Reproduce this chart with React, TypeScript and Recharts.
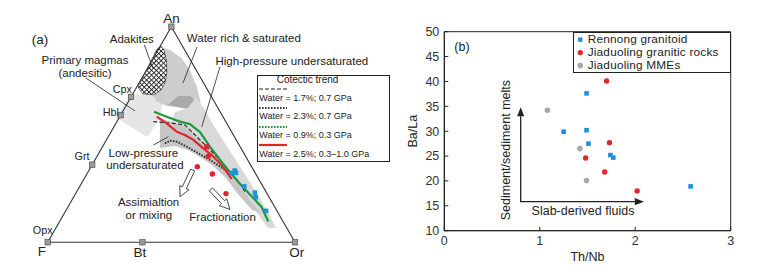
import React from 'react';
import { ScatterChart, Scatter, XAxis, YAxis, Legend, ReferenceArea } from 'recharts';

const FONT = '"Liberation Sans", Arial, Helvetica, sans-serif';
const INK = '#222';
const BLUE = '#1a93d8';
const RED = '#e2252b';
const GREEN = '#1e9a3d';
const GREY = '#a8a8a8';

// ---------- (a) An–F–Or ternary, triangle side = 100 units ----------
const triangleCorners = [[0, 0], [100, 0], [50, 87.2]];
const mineralTicks = [[50, 87.2], [33.7, 58.8], [29.5, 51.4], [18.0, 31.4], [0, 0], [38.3, 0], [100, 0]];

const primaryMagmaField = [[33.7, 59.6], [44.2, 60.4], [46.6, 57.5], [45.4, 50.3], [42.2, 45.4], [40.2, 42.6], [27.2, 50.7]];
const waterRichField = [
  [45.1, 79.1], [49.5, 77.8], [54.2, 74.4], [57.5, 69.7], [60.3, 62.9], [61.6, 57.5], [62.0, 54.8],
  [56.2, 54.2], [48.1, 55.1], [44.1, 56.9], [42.6, 59.2], [45.4, 62.4], [47.0, 66.4], [47.4, 72.5], [46.2, 77.8],
];
const waterRichCore = [[48.6, 55.5], [52.7, 59.2], [57.5, 59.2], [61.2, 56.3], [61.6, 54.3], [55.5, 54.1]];
const highPressureBand = [
  [60.0, 58.8], [63.6, 53.5], [67.7, 46.2], [72.9, 38.1], [78.6, 29.2], [84.2, 20.3], [89.1, 12.3], [92.3, 5.8],
  [89.1, 5.8], [83.8, 13.1], [79.0, 19.1], [73.7, 26.0], [67.7, 33.3], [61.6, 39.3], [55.5, 44.2], [49.5, 47.8],
  [51.5, 52.7], [56.7, 54.3],
];
const lowPressureField = [
  [45.4, 50.3], [50.3, 48.6], [55.5, 46.6], [59.6, 43.4], [64.8, 38.5], [70.5, 32.4], [75.8, 25.2], [81.8, 17.1],
  [86.7, 11.4], [82.6, 13.1], [76.9, 19.5], [71.7, 26.4], [66.4, 31.3], [61.6, 34.5], [56.7, 37.3], [51.5, 38.9],
  [45.4, 38.1],
];
const adakiteField = [
  [45.8, 79.4], [47.0, 77.8], [48.0, 73.8], [48.2, 69.0], [47.6, 64.9], [45.8, 61.6], [43.0, 59.6],
  [38.5, 60.0], [36.5, 62.8], [41.4, 72.5], [44.2, 78.2],
];

// cotectic trends
const trendWater17 = [[42.7, 48.8], [50.8, 48.1], [55.5, 47.4], [58.9, 44.1], [64.3, 38.7], [69.7, 33.3], [73.7, 28.5], [77.1, 24.5], [79.8, 20.5]];
const trendWater23 = [[47.4, 40.0], [49.5, 41.1], [52.2, 40.7], [56.2, 38.7], [60.9, 36.0], [65.6, 33.3], [69.7, 30.6], [73.0, 28.5]];
const trendWater09 = [[43.0, 52.8], [48.1, 50.8], [53.5, 48.8], [57.5, 47.8], [61.6, 44.6], [65.6, 38.7], [69.7, 33.3], [73.0, 29.2], [77.8, 23.6], [83.1, 17.9], [86.5, 14.3], [89.2, 8.4]];
const trendWater25 = [[44.1, 50.8], [48.1, 48.1], [52.2, 44.7], [55.5, 43.4], [58.9, 41.4], [62.9, 38.0], [66.3, 35.3], [69.7, 31.9], [72.4, 28.5], [74.4, 25.6]];

const jiaduolingA = [[64.3, 38.7], [64.9, 34.8], [60.5, 30.6], [66.6, 27.6], [72.1, 19.7]];
const rennongA = [[74.5, 28.0], [75.6, 29.0], [76.1, 28.1], [79.5, 22.6], [83.8, 20.1], [84.1, 18.2], [88.3, 12.7]];

const assimilationArrow = [[58.6, 29.2], [53.5, 18.4]];
const fractionationArrow = [[66.0, 21.4], [73.7, 13.3]];

const leaderLines = [
  [[39.1, 79.8], [42.5, 70.4]],
  [[60.4, 79.0], [54.7, 64.4]],
  [[15.5, 66.4], [35.3, 53.1]],
  [[69.7, 71.0], [62.3, 46.7]],
  [[42.7, 39.3], [48.8, 42.7]],
];

const cornerLabels = [
  { x: 50.1, y: 90.7, text: 'An' },
  { x: -2.4, y: -3.8, text: 'F' },
  { x: 37.3, y: -3.9, text: 'Bt' },
  { x: 100.7, y: -3.9, text: 'Or' },
];
const mineralLabels = [
  { x: -2.0, y: 5.0, text: 'Opx' },
  { x: 13.9, y: 35.0, text: 'Grt' },
  { x: 25.5, y: 52.6, text: 'Hbl' },
  { x: 30.2, y: 61.8, text: 'Cpx' },
];
const fieldLabels = [
  { x: 34.0, y: 82.1, text: 'Adakites' },
  { x: 79.3, y: 82.7, text: 'Water rich & saturated' },
  { x: 15.1, y: 73.7, text: 'Primary magmas' },
  { x: 15.1, y: 68.6, text: '(andesitic)' },
  { x: 98.7, y: 73.4, text: 'High-pressure undersaturated' },
  { x: 38.7, y: 36.2, text: 'Low-pressure' },
  { x: 39.3, y: 31.1, text: 'undersaturated' },
  { x: 40.8, y: 16.2, text: 'Assimialtion' },
  { x: 40.9, y: 11.0, text: 'or mixing' },
  { x: 70.7, y: 10.1, text: 'Fractionation' },
];
const panelTagA = [{ x: -3.1, y: 82.1, text: '(a)' }];

const cotecticTitle = 'Cotectic trend';
const cotecticNames = ['Water = 1.7%; 0.7 GPa', 'Water = 2.3%; 0.7 GPa', 'Water = 0.9%; 0.3 GPa', 'Water = 2.5%; 0.3–1.0 GPa'];
const cotecticStyles = [
  { color: INK, dash: '4 2', lw: 1.2 },
  { color: '#333', dash: '1.6 1.4', lw: 2 },
  { color: GREEN, dash: '1.6 1.4', lw: 2 },
  { color: RED, dash: undefined, lw: 2.2 },
];

// ---------- (b) Th/Nb vs Ba/La ----------
const rennong = [[1.49, 37.6], [1.25, 29.9], [1.49, 30.2], [1.51, 27.5], [1.74, 25.2], [1.77, 24.7], [2.58, 18.9]];
const jiaduoling = [[1.70, 40.1], [1.73, 27.7], [1.48, 24.6], [1.68, 21.8], [2.02, 18.0]];
const mmes = [[1.08, 34.2], [1.42, 26.5], [1.49, 20.1]];
const groupNames = ['Rennong granitoid', 'Jiaduoling granitic rocks', 'Jiaduoling MMEs'];
const thNbTicks = [0, 1, 2, 3];
const baLaTicks = [10, 15, 20, 25, 30, 35, 40, 45, 50];
const sourceArrows = [[0.8, 34.8], [0.8, 15.83], [2.09, 15.83]];
const notesB = [
  { x: 0.185, y: 47.1, text: '(b)' },
  { x: 1.453, y: 14.0, text: 'Slab-derived fluids' },
];
const verticalNotesB = [{ x: 0.646, y: 26.2, text: 'Sediment/sediment melts' }];

const pts = (arr: number[][]) => arr.map(([x, y]) => ({ x, y }));

const NoShape = () => <g />;

// line renderer fed by Scatter's `line` (gets pixel points from the scales)
const Poly = (props: any) => {
  const { points, ink, paint, lw, dash, closed, hatchId } = props;
  if (!points || points.length < 2) return null;
  const d =
    points.map((p: any, i: number) => `${i ? 'L' : 'M'}${p.x.toFixed(2)},${p.y.toFixed(2)}`).join(' ') + (closed ? ' Z' : '');
  return (
    <g>
      {hatchId && (
        <defs>
          <pattern id={hatchId} width={3.4} height={3.4} patternUnits="userSpaceOnUse" patternTransform="rotate(45)">
            <rect width={3.4} height={3.4} fill="#fff" />
            <path d="M0 0.5H3.4M0.5 0V3.4" stroke="#222" strokeWidth={0.9} />
          </pattern>
        </defs>
      )}
      <path
        d={d}
        fill={hatchId ? `url(#${hatchId})` : paint || 'none'}
        stroke={ink || 'none'}
        strokeWidth={lw || 1}
        strokeDasharray={dash}
        strokeLinejoin="round"
      />
    </g>
  );
};

const HollowArrow = (props: any) => {
  const { points } = props;
  if (!points || points.length < 2) return null;
  const [a, b] = points;
  const len = Math.hypot(b.x - a.x, b.y - a.y);
  const ux = (b.x - a.x) / len;
  const uy = (b.y - a.y) / len;
  const nx = -uy;
  const ny = ux;
  const sw = 2.2;
  const hw = 5;
  const hl = 10;
  const bx = b.x - ux * hl;
  const by = b.y - uy * hl;
  const outline = [
    [a.x + nx * sw, a.y + ny * sw],
    [bx + nx * sw, by + ny * sw],
    [bx + nx * hw, by + ny * hw],
    [b.x, b.y],
    [bx - nx * hw, by - ny * hw],
    [bx - nx * sw, by - ny * sw],
    [a.x - nx * sw, a.y - ny * sw],
  ];
  return <polygon points={outline.map((p) => p.join(',')).join(' ')} fill="#fff" stroke="#333" strokeWidth={0.9} />;
};

// two-headed L shaped arrow of panel (b)
const CornerArrows = (props: any) => {
  const { points } = props;
  if (!points || points.length < 3) return null;
  const [tip1, corner, tip2] = points;
  const head = (tip: any) => {
    const len = Math.hypot(tip.x - corner.x, tip.y - corner.y);
    const ux = (tip.x - corner.x) / len;
    const uy = (tip.y - corner.y) / len;
    const hl = 9;
    const hw = 3.6;
    const bx = tip.x - ux * hl;
    const by = tip.y - uy * hl;
    return {
      base: { x: bx, y: by },
      poly: `${tip.x},${tip.y} ${bx - uy * hw},${by + ux * hw} ${bx + uy * hw},${by - ux * hw}`,
    };
  };
  const h1 = head(tip1);
  const h2 = head(tip2);
  return (
    <g>
      <path
        d={`M${h1.base.x},${h1.base.y} L${corner.x},${corner.y} L${h2.base.x},${h2.base.y}`}
        fill="none"
        stroke={INK}
        strokeWidth={1.3}
      />
      <polygon points={h1.poly} fill={INK} />
      <polygon points={h2.poly} fill={INK} />
    </g>
  );
};

const textShape = (size: number, rotate = 0) => (p: any) => (
  <text
    x={p.cx}
    y={p.cy}
    dy="0.35em"
    textAnchor="middle"
    fontSize={size}
    fontFamily={FONT}
    fill={INK}
    transform={rotate ? `rotate(${rotate} ${p.cx} ${p.cy})` : undefined}
  >
    {p.payload.text}
  </text>
);

const squareShape = (s: number, color: string, edge?: string) => (p: any) => (
  <rect x={p.cx - s / 2} y={p.cy - s / 2} width={s} height={s} fill={color} stroke={edge || 'none'} strokeWidth={0.7} />
);
const dotShape = (r: number, color: string) => (p: any) => <circle cx={p.cx} cy={p.cy} r={r} fill={color} />;

const LegendA = () => (
  <div
    style={{
      position: 'relative',
      width: 133,
      height: 87,
      border: `1px solid ${INK}`,
      boxSizing: 'border-box',
      background: '#fff',
      fontFamily: FONT,
      color: INK,
    }}
  >
    <div style={{ position: 'absolute', left: 19, top: -1, fontSize: 10, lineHeight: '10px', whiteSpace: 'nowrap' }}>
      {cotecticTitle}
    </div>
    {cotecticNames.map((name, i) => (
      <React.Fragment key={name}>
        <svg style={{ position: 'absolute', left: 1.6, top: 10 + 18.8 * i }} width={29} height={6}>
          <line
            x1={0}
            x2={28}
            y1={3}
            y2={3}
            stroke={cotecticStyles[i].color}
            strokeWidth={cotecticStyles[i].lw}
            strokeDasharray={cotecticStyles[i].dash}
          />
        </svg>
        <div
          style={{
            position: 'absolute',
            left: 1.6,
            top: 16.5 + 18.8 * i,
            fontSize: 9,
            lineHeight: '10px',
            whiteSpace: 'nowrap',
          }}
        >
          {name}
        </div>
      </React.Fragment>
    ))}
  </div>
);

const groupMarkers = [
  <rect key="s" x={4.1} y={4.4} width={4.4} height={4.4} fill={BLUE} />,
  <circle key="r" cx={6.3} cy={6.6} r={2.7} fill={RED} />,
  <circle key="g" cx={6.3} cy={6.6} r={2.8} fill={GREY} />,
];

const LegendB = () => (
  <div
    style={{
      position: 'relative',
      width: 158,
      height: 41.5,
      border: `1px solid ${INK}`,
      boxSizing: 'border-box',
      background: '#fff',
      fontFamily: FONT,
      fontSize: 11.8,
      letterSpacing: 0.2,
      color: INK,
    }}
  >
    {groupNames.map((name, i) => (
      <div
        key={name}
        style={{ position: 'absolute', left: 0, top: 0.3 + 13.2 * i, height: 13.2, display: 'flex', alignItems: 'center' }}
      >
        <svg width={14} height={13.2} style={{ flex: 'none' }}>
          {groupMarkers[i]}
        </svg>
        <span style={{ lineHeight: '13.2px', whiteSpace: 'nowrap' }}>{name}</span>
      </div>
    ))}
  </div>
);

const XTick = (props: any) => {
  const { x, y, payload } = props;
  return (
    <g>
      <line x1={x} x2={x} y1={y - 10} y2={y - 14} stroke={INK} />
      <text x={x} y={y} dy="0.35em" textAnchor="middle" fontSize={12.5} fontFamily={FONT} fill="#333">
        {payload.value}
      </text>
    </g>
  );
};

const YTick = (props: any) => {
  const { x, y, payload } = props;
  return (
    <g>
      <line x1={x + 5} x2={x + 9} y1={y} y2={y} stroke={INK} />
      <text x={x} y={y} dy="0.35em" textAnchor="end" fontSize={12.5} fontFamily={FONT} fill="#333">
        {payload.value}
      </text>
    </g>
  );
};

const area = (key: string, data: number[][], paint: string, extra: any = {}) => (
  <Scatter
    key={key}
    data={pts(data)}
    shape={NoShape}
    line={<Poly paint={paint} closed {...extra} />}
    isAnimationActive={false}
  />
);

const curve = (key: string, data: number[][], ink: string, lw: number, dash?: string) => (
  <Scatter
    key={key}
    data={pts(data)}
    shape={NoShape}
    line={<Poly ink={ink} lw={lw} dash={dash} />}
    isAnimationActive={false}
  />
);

const TernaryPanel = () => (
  <ScatterChart width={400} height={268} margin={{ top: 0, right: 0, bottom: 0, left: 0 }}>
    <XAxis type="number" dataKey="x" domain={[-19.29, 142.46]} hide />
    <YAxis type="number" dataKey="y" domain={[-10.39, 97.98]} hide />
    {area('primary', primaryMagmaField, '#e6e6e6')}
    {area('water', waterRichField, '#cdcdcd')}
    {area('waterCore', waterRichCore, '#aaaaaa')}
    {area('hp', highPressureBand, '#d9d9d9')}
    {area('lp', lowPressureField, '#c6c6c6')}
    {area('adakite', adakiteField, 'none', { hatchId: 'adakiteHatch', ink: '#333', lw: 0.6 })}
    <Scatter
      data={pts(triangleCorners)}
      shape={NoShape}
      line={<Poly ink="#333" lw={1.1} closed />}
      isAnimationActive={false}
    />
    {leaderLines.map((seg, i) => curve(`leader${i}`, seg, INK, 0.8))}
    {curve('t17', trendWater17, INK, 1.1, '4 2.2')}
    {curve('t23', trendWater23, '#333', 2, '1.6 1.3')}
    {curve('t25', trendWater25, RED, 2.2)}
    {curve('t09', trendWater09, GREEN, 2.2)}
    <Scatter data={pts(jiaduolingA)} shape={dotShape(2.7, RED)} isAnimationActive={false} />
    <Scatter data={pts(rennongA)} shape={squareShape(4.6, BLUE)} isAnimationActive={false} />
    <Scatter data={pts(assimilationArrow)} shape={NoShape} line={<HollowArrow />} isAnimationActive={false} />
    <Scatter data={pts(fractionationArrow)} shape={NoShape} line={<HollowArrow />} isAnimationActive={false} />
    <Scatter data={pts(mineralTicks)} shape={squareShape(5.4, '#9a9a9a', '#555')} isAnimationActive={false} />
    <Scatter data={cornerLabels} shape={textShape(13.5)} isAnimationActive={false} />
    <Scatter data={mineralLabels} shape={textShape(10.8)} isAnimationActive={false} />
    <Scatter data={fieldLabels} shape={textShape(11.5)} isAnimationActive={false} />
    <Scatter data={panelTagA} shape={textShape(13.5)} isAnimationActive={false} />
    <Legend
      layout="horizontal"
      align="center"
      verticalAlign="middle"
      wrapperStyle={{ left: 256.7, top: 75, width: 133, height: 87 }}
      content={() => <LegendA />}
    />
  </ScatterChart>
);

const RatioPanel = () => (
  <ScatterChart width={359} height={268} margin={{ top: 31.7, right: 28.3, bottom: 7.3, left: 4 }}>
    <XAxis
      type="number"
      dataKey="x"
      domain={[0, 3]}
      ticks={thNbTicks}
      height={30}
      tickSize={0}
      tickMargin={10}
      tickLine={false}
      axisLine={{ stroke: INK }}
      tick={<XTick />}
      label={{ value: 'Th/Nb', position: 'insideBottom', offset: 0, fontSize: 12.5, fill: INK, fontFamily: FONT }}
    />
    <YAxis
      type="number"
      dataKey="y"
      domain={[10, 50]}
      ticks={baLaTicks}
      width={40.3}
      tickSize={0}
      tickMargin={5}
      tickLine={false}
      axisLine={{ stroke: INK }}
      tick={<YTick />}
      label={{
        value: 'Ba/La',
        angle: -90,
        position: 'insideLeft',
        offset: 9,
        fontSize: 12.5,
        fill: INK,
        fontFamily: FONT,
        style: { textAnchor: 'middle' },
      }}
    />
    <ReferenceArea x1={0} x2={3} y1={10} y2={50} fill="none" stroke={INK} strokeWidth={1} />
    <Scatter data={pts(sourceArrows)} shape={NoShape} line={<CornerArrows />} isAnimationActive={false} />
    <Scatter data={notesB} shape={textShape(12.5)} isAnimationActive={false} />
    <Scatter data={verticalNotesB} shape={textShape(12.5, -90)} isAnimationActive={false} />
    <Scatter name={groupNames[0]} data={pts(rennong)} shape={squareShape(4.6, BLUE)} isAnimationActive={false} />
    <Scatter name={groupNames[1]} data={pts(jiaduoling)} shape={dotShape(2.7, RED)} isAnimationActive={false} />
    <Scatter name={groupNames[2]} data={pts(mmes)} shape={dotShape(2.8, GREY)} isAnimationActive={false} />
    <Legend
      layout="horizontal"
      align="center"
      verticalAlign="middle"
      wrapperStyle={{ left: 172.7, top: 31.7, width: 158, height: 41.5 }}
      content={() => <LegendB />}
    />
  </ScatterChart>
);

export default function App() {
  return (
    <div style={{ position: 'absolute', left: 0, top: 0, width: 759, height: 268, background: '#fff', fontFamily: FONT }}>
      <div style={{ position: 'absolute', left: 0, top: 0 }}>
        <TernaryPanel />
      </div>
      <div style={{ position: 'absolute', left: 400, top: 0 }}>
        <RatioPanel />
      </div>
    </div>
  );
}
